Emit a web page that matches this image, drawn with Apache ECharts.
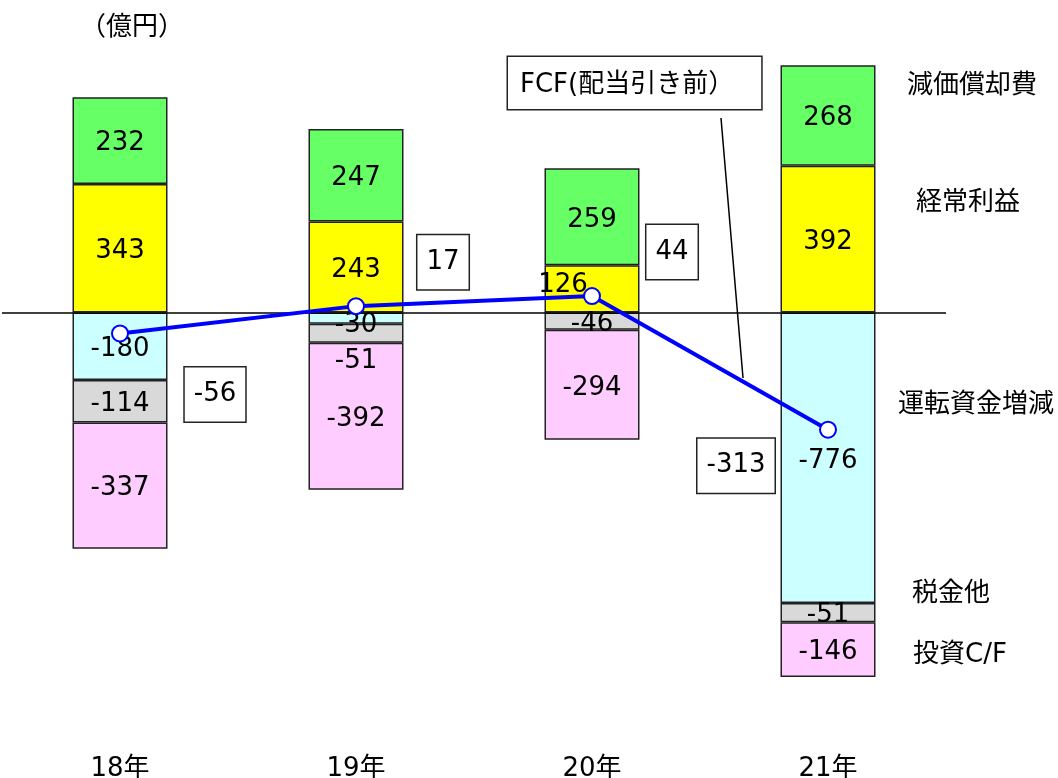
<!DOCTYPE html>
<html>
<head>
<meta charset="utf-8">
<script src="https://cdn.jsdelivr.net/npm/echarts@6/dist/echarts.min.js"></script>
<style>
  html, body { margin: 0; padding: 0; background: #fff; }
  #main { width: 1058px; height: 778px; }
</style>
</head>
<body>
<div id="main"></div>
<script>
// 年度
var years = ['18年', '19年', '20年', '21年'];
// 各項目（億円）
var depreciation = [232, 247, 259, 268];   // 減価償却費
var ordinaryProfit = [343, 243, 126, 392]; // 経常利益
var workingCapital = [-180, -30, null, -776]; // 運転資金増減
var taxOther = [-114, -51, -46, -51];      // 税金他
var investCF = [-337, -392, -294, -146];   // 投資C/F
var fcf = [-56, 17, 44, -313];             // FCF(配当引き前)

var names = ['減価償却費', '経常利益', '運転資金増減', '税金他', '投資C/F'];
var colors = ['#66ff66', '#ffff00', '#ccffff', '#d9d9d9', '#ffccff'];

var font = "'DejaVu Sans', 'Noto Sans CJK JP', sans-serif";

var chartDom = document.getElementById('main');
var myChart = echarts.init(chartDom);

// ラベル位置の微調整（重なり回避のため元図でずれているもの）
function withOffset(arr, offsets) {
  return arr.map(function (v, i) {
    if (offsets[i]) {
      return { value: v, label: { offset: offsets[i] } };
    }
    return v;
  });
}

function barSeries(idx, data) {
  return {
    name: names[idx],
    type: 'bar',
    stack: 'cf',
    barWidth: 95,
    data: data,
    itemStyle: {
      color: colors[idx],
      borderColor: '#222',
      borderWidth: 1.5
    },
    label: {
      show: true,
      position: 'inside',
      offset: [0, 3],
      color: '#000',
      fontSize: 26,
      fontFamily: font
    }
  };
}

// 積み上げ順：経常利益の上に減価償却費、ゼロの下は運転資金→税金他→投資
var series = [
  barSeries(1, withOffset(ordinaryProfit, { 2: [-29, -4] })),
  barSeries(0, depreciation),
  barSeries(2, withOffset(workingCapital, { 1: [0, 7] })),
  barSeries(3, withOffset(taxOther, { 1: [0, 28] })),
  barSeries(4, investCF)
];

series[0].markLine = {
  silent: true,
  symbol: 'none',
  label: { show: false },
  lineStyle: { color: '#000', width: 1.5, type: 'solid' },
  data: [{ yAxis: 0 }]
};

series.push({
  name: 'FCF',
  type: 'line',
  data: fcf,
  z: 5,
  symbol: 'circle',
  symbolSize: 16,
  lineStyle: { color: '#0000ff', width: 4 },
  itemStyle: { color: '#fff', borderColor: '#0000ff', borderWidth: 2 }
});

// FCF の値ボックス
var boxOffsets = [[95, 61], [87, -44], [80, -44], [-92, 36]];
series.push({
  name: 'FCF値',
  type: 'scatter',
  symbolSize: 0,
  z: 6,
  itemStyle: { opacity: 1 },
  data: fcf.map(function (v, i) {
    return { value: v, label: { offset: boxOffsets[i] } };
  }),
  label: {
    show: true,
    position: 'inside',
    color: '#000',
    fontSize: 26,
    fontFamily: font,
    lineHeight: 28,
    backgroundColor: '#fff',
    borderColor: '#222',
    borderWidth: 1.5,
    padding: [14, 9, 12, 9]
  }
});

var sideLabelPos = [[972, 86], [968, 203], [976, 405], [951, 594], [960, 655]];
var graphics = names.map(function (n, i) {
  return {
    type: 'text',
    x: sideLabelPos[i][0],
    y: sideLabelPos[i][1],
    style: {
      text: n,
      font: '26px ' + font,
      fill: '#000',
      align: 'center',
      verticalAlign: 'middle'
    }
  };
});
graphics.push({
  type: 'text',
  x: 132,
  y: 28,
  style: {
    text: '（億円）',
    font: '26px ' + font,
    fill: '#000',
    align: 'center',
    verticalAlign: 'middle'
  }
});
graphics.push({
  type: 'text',
  x: 508,
  y: 57,
  z: 10,
  style: {
    text: 'FCF(配当引き前）',
    font: '26px ' + font,
    fill: '#000',
    lineHeight: 26,
    backgroundColor: '#fff',
    borderColor: '#222',
    borderWidth: 1.5,
    padding: [15, 27, 11, 12]
  }
});
graphics.push({
  type: 'line',
  z: 10,
  shape: { x1: 721, y1: 118, x2: 743, y2: 378 },
  style: { stroke: '#000', lineWidth: 1.5 }
});

var option = {
  animation: false,
  grid: {
    left: 2,
    right: 112,
    top: 50.35,
    bottom: 91,
    outerBoundsMode: 'none'
  },
  xAxis: {
    type: 'category',
    data: years,
    axisLine: { show: false, onZero: false },
    axisTick: { show: false },
    axisLabel: {
      margin: 69,
      color: '#000',
      fontSize: 26,
      fontFamily: font
    }
  },
  yAxis: {
    type: 'value',
    show: false,
    min: -1000,
    max: 700,
    splitLine: { show: false }
  },
  graphic: graphics,
  series: series
};

option && myChart.setOption(option);
</script>
</body>
</html>
